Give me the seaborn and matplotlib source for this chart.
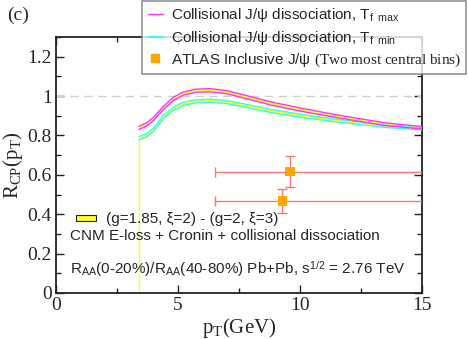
import numpy as np
import pandas as pd
import matplotlib
matplotlib.use("Agg")
import matplotlib.pyplot as plt
import seaborn as sns
from matplotlib.lines import Line2D
from matplotlib.patches import Rectangle

# ---------------- data ----------------
pt = [3.4, 3.7, 4.0, 4.4, 4.8, 5.2, 5.7, 6.3, 7.0, 7.8, 8.8, 10.0, 11.5, 13.5, 15.0]
tfmax_hi = [0.847, 0.863, 0.893, 0.948, 0.993, 1.020, 1.035, 1.038, 1.028, 1.003, 0.971, 0.940, 0.905, 0.864, 0.845]
tfmax_lo = [0.831, 0.847, 0.877, 0.932, 0.977, 1.004, 1.019, 1.022, 1.012, 0.987, 0.955, 0.924, 0.891, 0.850, 0.833]
tfmin_hi = [0.794, 0.808, 0.838, 0.903, 0.943, 0.968, 0.981, 0.984, 0.978, 0.958, 0.933, 0.908, 0.883, 0.853, 0.838]
tfmin_lo = [0.778, 0.792, 0.822, 0.887, 0.927, 0.952, 0.965, 0.968, 0.962, 0.942, 0.917, 0.892, 0.869, 0.841, 0.828]

atlas_pt = [9.59, 9.27]
atlas_r = [0.616, 0.467]
atlas_err = [0.079, 0.061]
atlas_bin_lo = [6.5, 6.5]
atlas_bin_hi = [30.0, 30.0]

xticks = [0, 5, 10, 15]
yticks = [0, 0.2, 0.4, 0.6, 0.8, 1.0, 1.2]
ytick_labels = ["0", "0.2", "0.4", "0.6", "0.8", "1", "1.2"]

# ---------------- style ----------------
sns.set_style("ticks")
plt.rcParams["font.family"] = ["Liberation Sans", "DejaVu Sans"]
plt.rcParams["mathtext.fontset"] = "custom"
plt.rcParams["mathtext.rm"] = "Liberation Serif"
plt.rcParams["mathtext.sf"] = "Liberation Sans"
plt.rcParams["mathtext.it"] = "Liberation Serif:italic"

SERIF = ["Liberation Serif", "DejaVu Serif"]
MAG = "#ff33ff"
CYAN = "#33ffee"
YEL = "#ffff22"

fig = plt.figure(figsize=(4.68, 3.39), dpi=100)
ax = fig.add_axes([0.1197, 0.1357, 0.782, 0.755])

df = pd.DataFrame({"pt": pt, "tfmax_hi": tfmax_hi, "tfmax_lo": tfmax_lo,
                   "tfmin_hi": tfmin_hi, "tfmin_lo": tfmin_lo})

# reference line at 1
ax.axhline(1.0, color="#d0d0d0", lw=1.0, ls=(0, (6, 4)), zorder=1)

# bands
ax.fill_between(df["pt"], df["tfmin_lo"], df["tfmin_hi"], color=YEL, lw=0, zorder=2)
ax.fill_between(df["pt"], df["tfmax_lo"], df["tfmax_hi"], color=YEL, lw=0, zorder=2)
for col, c in [("tfmin_hi", CYAN), ("tfmin_lo", CYAN), ("tfmax_hi", MAG), ("tfmax_lo", MAG)]:
    sns.lineplot(data=df, x="pt", y=col, ax=ax, color=c, lw=1.0, zorder=3)
ax.plot([pt[0], pt[0]], [0, tfmin_lo[0]], color=YEL, lw=1.0, zorder=2)

# ATLAS points
for x, y, e, blo, bhi in zip(atlas_pt, atlas_r, atlas_err, atlas_bin_lo, atlas_bin_hi):
    ax.errorbar([x], [y], yerr=[[e], [e]], xerr=[[x - blo], [bhi - x]],
                fmt="none", ecolor="#f47a7a", elinewidth=1.0, capsize=3.5, capthick=1.0,
                zorder=4)
sns.scatterplot(x=atlas_pt, y=atlas_r, ax=ax, marker="s", s=45, color="#ffa500",
                edgecolor="none", zorder=5)

ax.set_xlim(0, 15)
ax.set_ylim(0, 1.3)
ax.set_xticks(xticks)
ax.set_xticklabels([str(t) for t in xticks], fontfamily=SERIF, fontsize=14)
ax.set_yticks(yticks)
ax.set_yticklabels(ytick_labels, fontfamily=SERIF, fontsize=14)
ax.set_xticks(np.arange(0, 15.01, 2.5), minor=True)
ax.set_yticks(np.arange(0, 1.301, 0.1), minor=True)
ax.tick_params(which="both", direction="in", top=True, right=True, width=1.0, color="#222222")
ax.tick_params(which="major", length=6, pad=3)
ax.tick_params(which="minor", length=3.5)
for s in ax.spines.values():
    s.set_linewidth(1.3)
    s.set_color("#222222")

ax.set_xlabel("p$_{\\mathrm{T}}$(GeV)", fontfamily=SERIF, fontsize=15, labelpad=1)
ax.set_ylabel("R$_{\\mathrm{CP}}$(p$_{\\mathrm{T}}$)", fontfamily=SERIF, fontsize=15, labelpad=2)

# inner band legend and texts
ax.add_patch(Rectangle((0.82, 0.364), 0.82, 0.03, facecolor=YEL, edgecolor="#222222", lw=0.8, zorder=6))
ax.text(2.05, 0.377, "(g=1.85, ξ=2) - (g=2, ξ=3)", fontsize=11, va="center", ha="left")
ax.text(0.57, 0.292, "CNM E-loss + Cronin + collisional dissociation", fontsize=11, va="center", ha="left")
ax.text(0.57, 0.115, "R$_\\mathsf{AA}$(0-20%)/R$_\\mathsf{AA}$(40-80%) Pb+Pb, s$^\\mathsf{1/2}$ = 2.76 TeV",
        fontsize=11, va="center", ha="left")

fig.text(0.015, 0.955, "(c)", fontfamily=SERIF, fontsize=14, va="center", ha="left")

handles = [Line2D([0], [0], color=MAG, lw=1.0),
           Line2D([0], [0], color=CYAN, lw=1.5),
           Line2D([0], [0], color="#ffa500", marker="s", ms=6, lw=0)]
labels = ["Collisional J/ψ dissociation, T$_\\mathsf{f\\ \\ max}$",
          "Collisional J/ψ dissociation, T$_\\mathsf{f\\ \\ min}$",
          "ATLAS Inclusive J/ψ $\\mathrm{(Two\\ most\\ central\\ bins)}$"]
leg = fig.legend(handles, labels, loc="upper right", bbox_to_anchor=(0.996, 0.997),
                 fontsize=11, frameon=True, fancybox=False, shadow=False,
                 handlelength=1.0, handletextpad=0.5, borderpad=0.35, labelspacing=0.3,
                 borderaxespad=0.0)
leg.get_frame().set_edgecolor("#777777")
leg.get_frame().set_linewidth(1.2)
leg.set_zorder(10)

fig.savefig("out.png", dpi=100)
